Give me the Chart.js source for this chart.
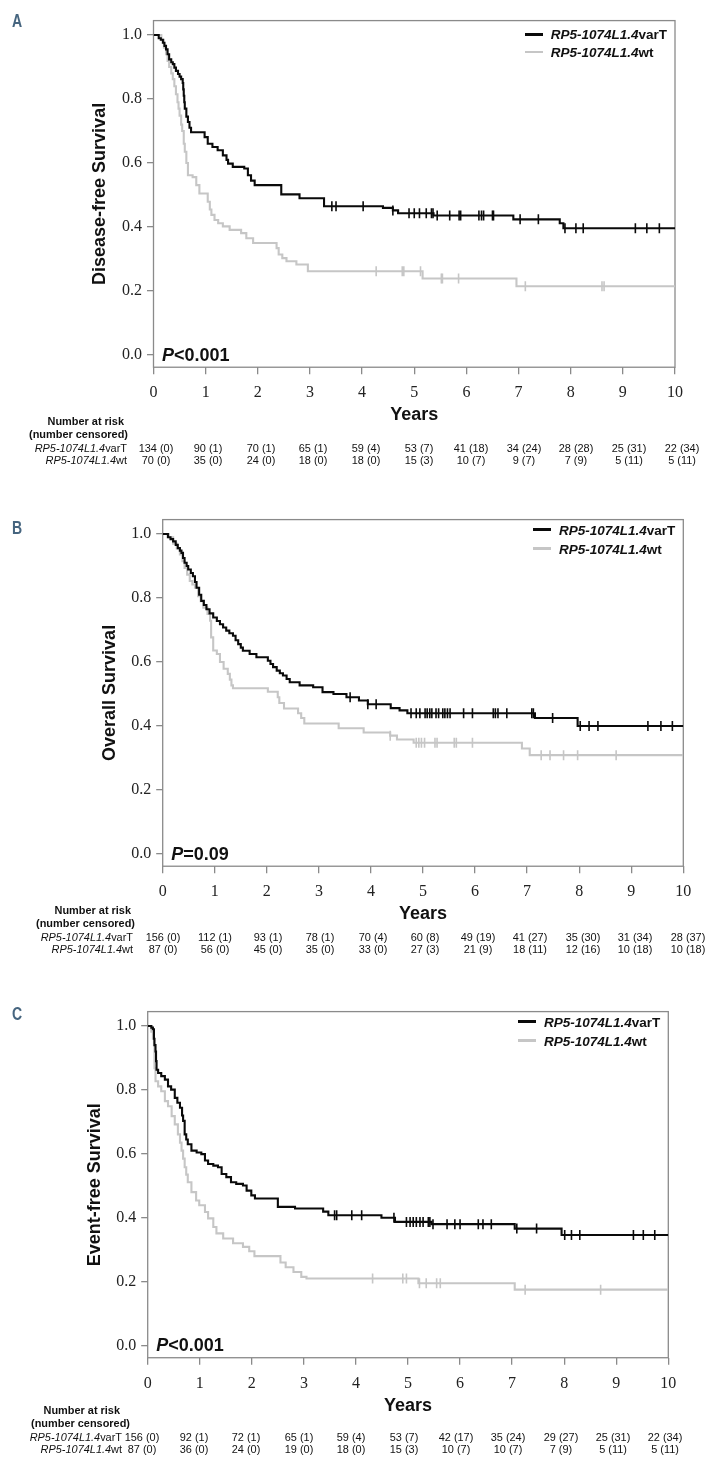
<!DOCTYPE html>
<html><head><meta charset="utf-8">
<script src="https://cdn.jsdelivr.net/npm/chart.js@4.4.1/dist/chart.umd.min.js"></script>
<style>
html,body{margin:0;padding:0;background:#fff;}
#wrap{position:relative;width:713px;height:1468px;overflow:hidden;font-family:"Liberation Sans",Arial,sans-serif;}
canvas{position:absolute;left:0;}
.t{position:absolute;white-space:nowrap;line-height:1;}
.ln{position:absolute;}
</style></head><body><div id="wrap"></div>
<script>
// ---------- data ----------
const xTicks = [0,1,2,3,4,5,6,7,8,9,10];
const yTicks = [0,0.2,0.4,0.6,0.8,1.0];
const xTickLabels = ['0','1','2','3','4','5','6','7','8','9','10'];
const yTickLabels = ['0.0','0.2','0.4','0.6','0.8','1.0'];

// Panel A: disease-free survival
const A_varT_time = [0,0.10,0.14,0.18,0.21,0.24,0.27,0.30,0.34,0.37,0.40,0.43,0.47,0.50,0.53,0.56,0.57,0.58,0.59,0.60,0.63,0.66,0.69,0.72,0.98,1.04,1.13,1.23,1.33,1.40,1.43,1.52,1.74,1.81,1.87,1.94,2.45,2.80,3.27,4.40,4.59,4.69,5.37,6.90,7.79,7.86,10];
const A_varT_surv = [1,0.99,0.985,0.976,0.966,0.955,0.94,0.924,0.915,0.909,0.898,0.888,0.878,0.87,0.862,0.85,0.83,0.81,0.79,0.77,0.745,0.728,0.71,0.696,0.681,0.66,0.65,0.64,0.624,0.61,0.598,0.588,0.583,0.562,0.545,0.531,0.502,0.49,0.465,0.46,0.452,0.443,0.436,0.424,0.412,0.396,0.396];
const A_varT_cens = [3.42,3.50,4.02,4.59,4.90,5.00,5.10,5.23,5.33,5.36,5.44,5.68,5.86,5.89,6.24,6.29,6.33,6.50,6.52,7.03,7.38,7.89,8.10,8.24,9.24,9.46,9.70];
const A_wt_time = [0,0.15,0.20,0.24,0.27,0.30,0.34,0.37,0.40,0.43,0.46,0.48,0.50,0.53,0.55,0.58,0.60,0.63,0.66,0.75,0.82,0.88,1.04,1.08,1.11,1.17,1.24,1.33,1.46,1.68,1.78,1.91,2.36,2.40,2.47,2.55,2.74,2.96,5.16,6.96,10];
const A_wt_surv = [1,0.985,0.96,0.94,0.919,0.9,0.88,0.862,0.84,0.815,0.79,0.77,0.748,0.72,0.70,0.66,0.635,0.60,0.562,0.556,0.531,0.505,0.479,0.455,0.438,0.422,0.412,0.402,0.391,0.381,0.365,0.35,0.334,0.314,0.303,0.293,0.283,0.262,0.239,0.215,0.215];
const A_wt_cens = [4.27,4.77,4.80,5.12,5.52,5.54,5.85,7.13,8.60,8.64];
const A_risk_varT = ['134 (0)','90 (1)','70 (1)','65 (1)','59 (4)','53 (7)','41 (18)','34 (24)','28 (28)','25 (31)','22 (34)'];
const A_risk_wt = ['70 (0)','35 (0)','24 (0)','18 (0)','18 (0)','15 (3)','10 (7)','9 (7)','7 (9)','5 (11)','5 (11)'];

// Panel B: overall survival
const B_varT_time = [0,0.10,0.15,0.20,0.25,0.29,0.33,0.36,0.39,0.42,0.46,0.49,0.54,0.58,0.62,0.65,0.70,0.74,0.79,0.84,0.90,0.97,1.04,1.10,1.16,1.22,1.28,1.35,1.40,1.45,1.50,1.54,1.67,1.80,2.02,2.07,2.12,2.19,2.25,2.31,2.38,2.44,2.63,2.89,3.07,3.28,3.53,3.77,3.94,4.38,4.55,4.70,7.15,7.97,10];
const B_varT_surv = [1,0.99,0.984,0.977,0.966,0.956,0.948,0.941,0.925,0.91,0.9,0.889,0.878,0.868,0.85,0.832,0.81,0.791,0.778,0.765,0.752,0.739,0.728,0.718,0.708,0.698,0.69,0.682,0.668,0.656,0.645,0.635,0.625,0.615,0.604,0.594,0.584,0.573,0.565,0.558,0.547,0.537,0.527,0.521,0.506,0.50,0.49,0.48,0.468,0.456,0.449,0.44,0.425,0.40,0.40];
const B_varT_cens = [3.60,3.94,4.10,4.77,4.87,4.94,5.04,5.08,5.13,5.17,5.25,5.30,5.38,5.42,5.47,5.52,5.78,5.95,6.35,6.39,6.44,6.61,7.09,7.12,7.49,8.02,8.19,8.36,9.32,9.57,9.79];
const B_wt_time = [0,0.12,0.20,0.27,0.33,0.38,0.42,0.47,0.52,0.57,0.62,0.68,0.73,0.78,0.86,0.91,0.93,0.97,1.04,1.10,1.17,1.25,1.29,1.32,1.35,2.02,2.21,2.24,2.33,2.60,2.66,2.72,3.38,3.86,4.37,4.50,4.82,6.90,7.05,10];
const B_wt_surv = [1,0.99,0.97,0.955,0.936,0.915,0.894,0.873,0.853,0.842,0.832,0.806,0.79,0.77,0.75,0.729,0.677,0.636,0.625,0.60,0.579,0.563,0.545,0.527,0.518,0.507,0.49,0.472,0.455,0.44,0.425,0.408,0.393,0.38,0.37,0.358,0.348,0.33,0.309,0.309];
const B_wt_cens = [4.37,4.87,4.92,4.97,5.03,5.23,5.27,5.60,5.64,5.95,7.27,7.44,7.70,7.97,8.71];
const B_risk_varT = ['156 (0)','112 (1)','93 (1)','78 (1)','70 (4)','60 (8)','49 (19)','41 (27)','35 (30)','31 (34)','28 (37)'];
const B_risk_wt = ['87 (0)','56 (0)','45 (0)','35 (0)','33 (0)','27 (3)','21 (9)','18 (11)','12 (16)','10 (18)','10 (18)'];

// Panel C: event-free survival
const C_varT_time = [0,0.07,0.10,0.12,0.13,0.15,0.16,0.17,0.20,0.26,0.33,0.39,0.45,0.52,0.57,0.62,0.66,0.68,0.71,0.74,0.77,0.84,0.94,1.03,1.10,1.16,1.26,1.35,1.42,1.51,1.60,1.70,1.83,1.90,1.99,2.06,2.50,2.83,3.37,3.47,4.49,4.75,5.45,7.05,7.95,10];
const C_varT_surv = [1,0.995,0.99,0.96,0.94,0.92,0.89,0.863,0.853,0.843,0.832,0.811,0.801,0.775,0.76,0.744,0.72,0.703,0.661,0.645,0.63,0.61,0.604,0.599,0.579,0.568,0.563,0.558,0.537,0.527,0.511,0.506,0.501,0.485,0.47,0.46,0.434,0.429,0.419,0.408,0.40,0.387,0.38,0.366,0.346,0.346];
const C_varT_cens = [3.59,3.63,3.92,4.11,4.73,4.97,5.04,5.10,5.16,5.23,5.29,5.39,5.42,5.48,5.75,5.90,6.00,6.35,6.44,6.60,7.09,7.47,8.01,8.14,8.30,9.33,9.52,9.74];
const C_wt_time = [0,0.07,0.10,0.12,0.13,0.15,0.20,0.26,0.33,0.39,0.46,0.52,0.58,0.62,0.65,0.68,0.71,0.74,0.77,0.84,0.93,0.99,1.10,1.16,1.26,1.32,1.45,1.64,1.83,1.95,2.05,2.55,2.65,2.80,2.95,3.05,5.20,7.05,10];
const C_wt_surv = [1,0.982,0.96,0.941,0.868,0.827,0.811,0.796,0.765,0.749,0.718,0.692,0.661,0.635,0.61,0.585,0.558,0.535,0.511,0.48,0.454,0.439,0.418,0.398,0.371,0.351,0.335,0.32,0.309,0.295,0.28,0.26,0.245,0.23,0.215,0.21,0.195,0.175,0.175];
const C_wt_cens = [4.32,4.90,4.97,5.22,5.35,5.55,5.62,7.25,8.70];
const C_risk_varT = ['156 (0)','92 (1)','72 (1)','65 (1)','59 (4)','53 (7)','42 (17)','35 (24)','29 (27)','25 (31)','22 (34)'];
const C_risk_wt = ['87 (0)','36 (0)','24 (0)','19 (0)','18 (0)','15 (3)','10 (7)','10 (7)','7 (9)','5 (11)','5 (11)'];

const seriesNames = ['<i>RP5-1074L1.4</i>varT','<i>RP5-1074L1.4</i>wt'];

// ---------- layout ----------
const panels = [
  {letter:'A', yTitle:'Disease-free Survival', p:'<i>P</i>&lt;0.001',
   data:[[A_varT_time,A_varT_surv,A_varT_cens],[A_wt_time,A_wt_surv,A_wt_cens]], risk:[A_risk_varT,A_risk_wt],
   L:153.5, R:675, T:18.5, letterY:21, legY:[34,52], riskY:[421,434,447.5,459.5], hdrR:[124,128], rowR:127, colShift:[2,0.45]},
  {letter:'B', yTitle:'Overall Survival', p:'<i>P</i>=0.09',
   data:[[B_varT_time,B_varT_surv,B_varT_cens],[B_wt_time,B_wt_surv,B_wt_cens]], risk:[B_risk_varT,B_risk_wt],
   L:162.7, R:683.3, T:517.5, letterY:527.5, legY:[529.5,548.5], riskY:[910,922.5,937,949], hdrR:[131,135], rowR:133, colShift:[0,0.45]},
  {letter:'C', yTitle:'Event-free Survival', p:'<i>P</i>&lt;0.001',
   data:[[C_varT_time,C_varT_surv,C_varT_cens],[C_wt_time,C_wt_surv,C_wt_cens]], risk:[C_risk_varT,C_risk_wt],
   L:147.7, R:668.3, T:1009, letterY:1014, legY:[1021.7,1040.7], riskY:[1410,1423,1436.7,1449.3], hdrR:[120,129.5], rowR:122, colShift:[-6,0.3]}
];
const Y_MIN = -0.038, Y_MAX = 1.045, PX_PER_UNIT = 322;
const PLOT_H = (Y_MAX - Y_MIN) * PX_PER_UNIT;
const CANVAS_H = 421;
const colors = ['#0a0a0a','#c6c6c6'];
const RISK_FONT = '11.5px "Liberation Sans"';

const wrap = document.getElementById('wrap');
function addText(html, x, y, font, align, color, sx){
  const d = document.createElement('div');
  d.className = 't'; d.innerHTML = html;
  d.style.left = x + 'px'; d.style.top = y + 'px';
  d.style.font = font; d.style.color = color || '#111';
  const tr = align === 'right' ? 'translate(-100%,-50%)' : align === 'center' ? 'translate(-50%,-50%)' : 'translate(0,-50%)';
  d.style.transform = tr + (sx ? ' scaleX(' + sx + ')' : '');
  d.style.transformOrigin = align === 'right' ? '100% 50%' : align === 'center' ? '50% 50%' : '0 50%';
  wrap.appendChild(d); return d;
}
function addLine(x, y, w, h, c){
  const d = document.createElement('div'); d.className = 'ln';
  d.style.left = x + 'px'; d.style.top = (y - h/2) + 'px'; d.style.width = w + 'px'; d.style.height = h + 'px'; d.style.background = c;
  wrap.appendChild(d);
}
function survAt(times, surv, c){ let v = surv[0]; for (let i=0;i<times.length;i++){ if (times[i] <= c) v = surv[i]; } return v; }

const framePlugin = {id:'frame', beforeDatasetsDraw(chart){
  const {ctx, chartArea:a} = chart; ctx.save(); ctx.strokeStyle = '#8a8a8a'; ctx.lineWidth = 1.3;
  ctx.strokeRect(a.left, a.top, a.right - a.left, a.bottom - a.top); ctx.restore(); }};

panels.forEach(P => {
  const canvasTop = Math.floor(P.T) - 12;
  const padTop = P.T - canvasTop;
  const xAxisH = CANVAS_H - padTop - PLOT_H;
  const cv = document.createElement('canvas');
  cv.width = 713; cv.height = CANVAS_H; cv.style.top = canvasTop + 'px'; cv.style.width = '713px'; cv.style.height = CANVAS_H + 'px';
  wrap.appendChild(cv);

  const datasets = [];
  P.data.forEach((d, k) => {
    datasets.push({type:'line', label:'curve'+k, data:d[0].map((t,i)=>({x:t, y:d[1][i]})), stepped:'before', showLine:true,
      borderColor:colors[k], borderWidth:2.1, pointRadius:0, fill:false, order:k});
  });
  P.data.forEach((d, k) => {
    datasets.push({type:'scatter', label:'cens'+k, data:d[2].map(c=>({x:c, y:survAt(d[0], d[1], c)})), showLine:false,
      pointStyle:'line', rotation:90, pointRadius:5, borderColor:colors[k], borderWidth:1.6, backgroundColor:colors[k], order:k});
  });

  const chart = new Chart(cv, {
    type:'scatter',
    data:{datasets},
    options:{
      responsive:false, animation:false, devicePixelRatio:1, events:[],
      layout:{padding:{left:0, right:713 - P.R, top:padTop, bottom:0}},
      plugins:{legend:{display:false}, tooltip:{enabled:false}},
      scales:{
        x:{type:'linear', min:0, max:10,
          afterBuildTicks:s=>{ s.ticks = xTicks.map(v=>({value:v})); },
          afterFit:s=>{ s.height = xAxisH; },
          grid:{display:true, drawOnChartArea:false, drawTicks:true, tickLength:7, color:'#8a8a8a', lineWidth:1.3},
          border:{display:false},
          ticks:{padding:9, autoSkip:false, maxRotation:0, color:'#222', font:{family:'Liberation Serif', size:16},
            callback:(v,i)=>xTickLabels[i]},
          title:{display:true, text:'Years', color:'#111', font:{family:'Liberation Sans', size:18, weight:'bold'},
            padding:{top:0, bottom:xAxisH - 48 - 10.8}}
        },
        y:{type:'linear', min:Y_MIN, max:Y_MAX,
          afterBuildTicks:s=>{ s.ticks = yTicks.map(v=>({value:v})); },
          afterFit:s=>{ s.width = P.L; },
          grid:{display:true, drawOnChartArea:false, drawTicks:true, tickLength:6.5, color:'#8a8a8a', lineWidth:1.3},
          border:{display:false},
          ticks:{padding:5, color:'#222', font:{family:'Liberation Serif', size:16}, callback:(v,i)=>yTickLabels[i]},
          title:{display:true, text:P.yTitle, color:'#111', font:{family:'Liberation Sans', size:18, weight:'bold'},
            padding:{top:P.L - 53 - 10.8, bottom:0}}
        }
      }
    },
    plugins:[framePlugin]
  });

  // panel letter
  addText(P.letter, 17, P.letterY, 'bold 18px "Liberation Sans"', 'center', '#46657f', 0.78);
  // legend
  P.legY.forEach((y,k)=>{
    addLine(P.R - 150, y, 17.7, k===0?3:2.6, colors[k]);
    addText(seriesNames[k], P.R - 124.3, y, 'bold 13.5px "Liberation Sans"', 'left', '#111');
  });
  // p value
  const bottom = chart.chartArea.bottom + canvasTop;
  addText(P.p, P.L + 8.5, bottom - 12.5, 'bold 18px "Liberation Sans"', 'left', '#111');
  // risk table
  const xs = chart.scales.x;
  addText('Number at risk', P.hdrR[0], P.riskY[0], 'bold ' + RISK_FONT, 'right', '#111', 0.95);
  addText('(number censored)', P.hdrR[1], P.riskY[1], 'bold ' + RISK_FONT, 'right', '#111', 0.95);
  [0,1].forEach(k=>{
    const y = P.riskY[2+k];
    addText(seriesNames[k], P.rowR, y, RISK_FONT, 'right', '#111', 0.95);
    P.risk[k].forEach((txt,i)=>{
      const x = xs.getPixelForValue(xTicks[i]) + P.colShift[0] + P.colShift[1]*i;
      addText(txt, x, y, RISK_FONT, 'center', '#111', 0.95);
    });
  });
});
</script></body></html>
